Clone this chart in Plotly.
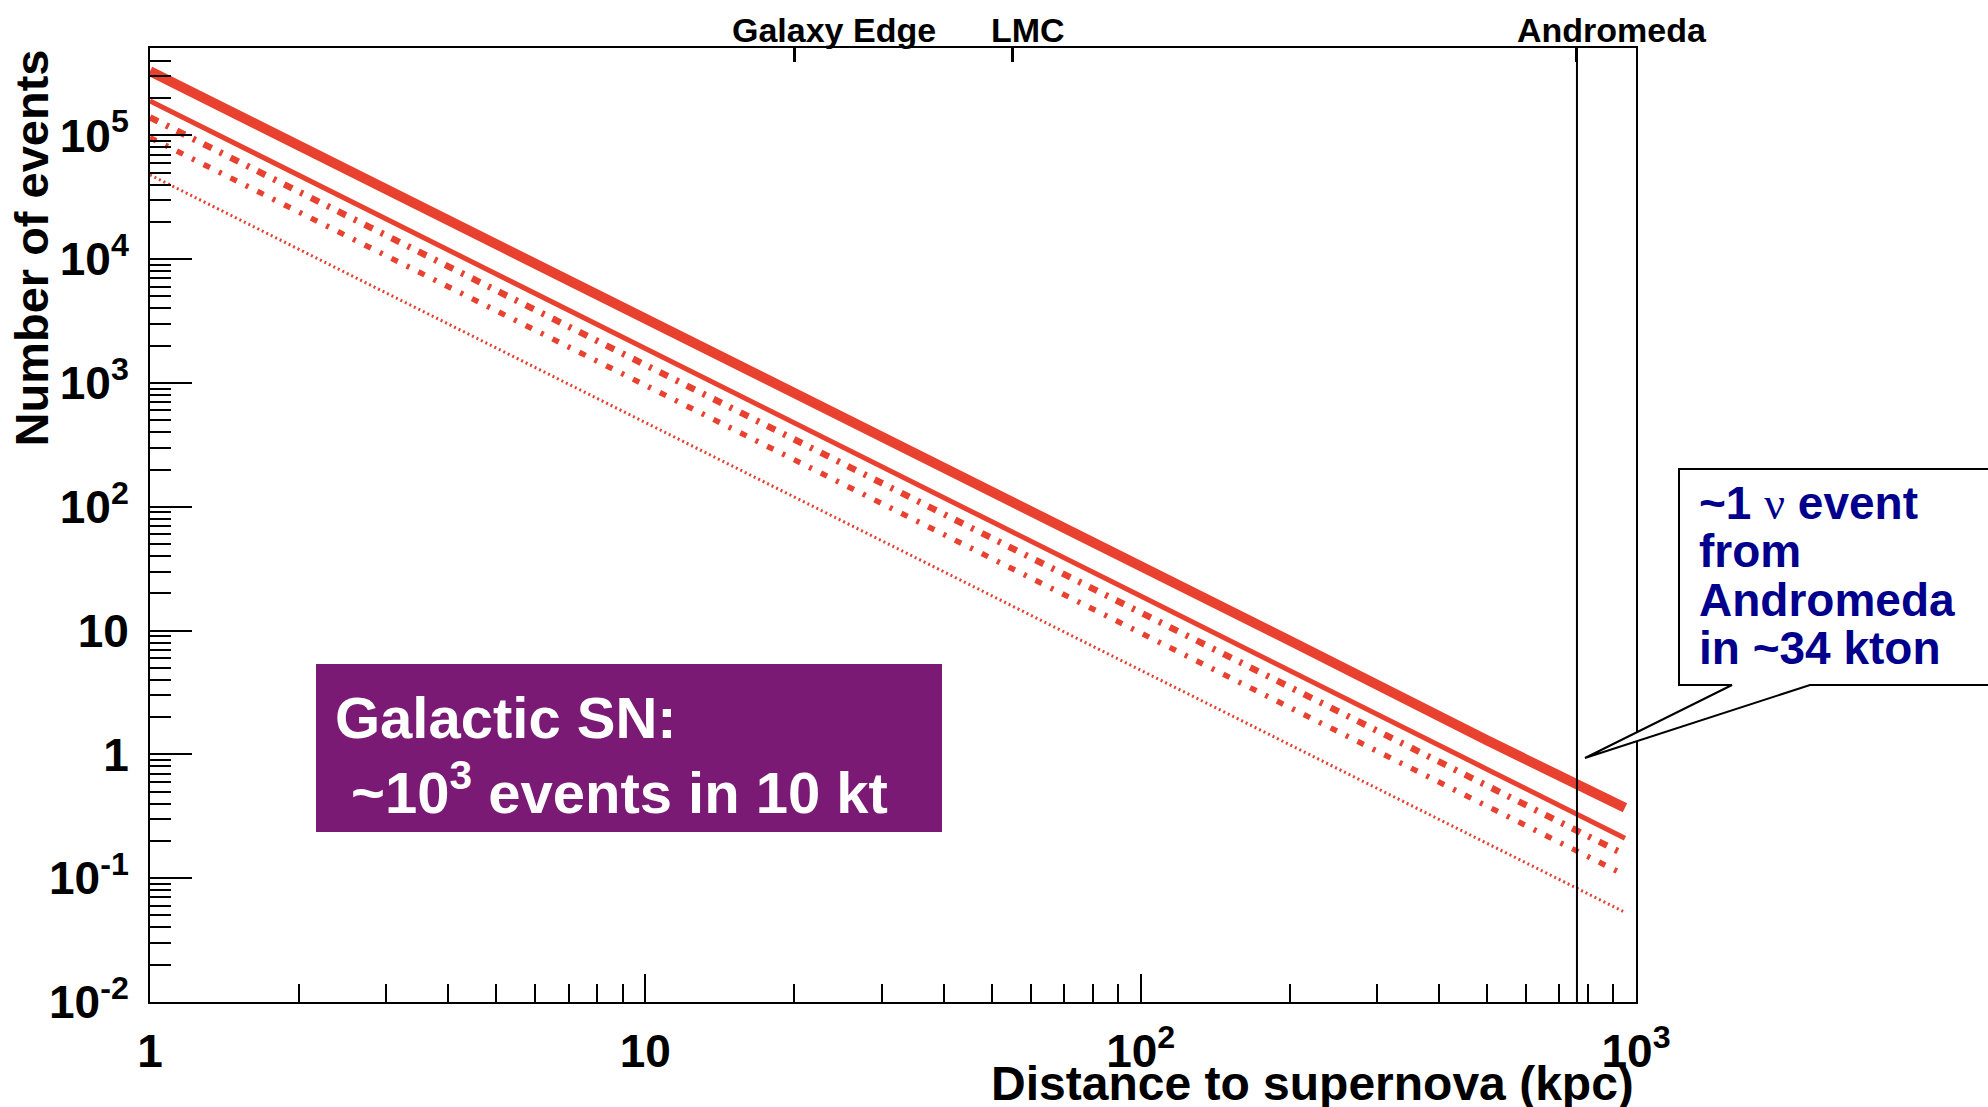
import math
import plotly.graph_objects as go

# Distance samples (kpc) and expected event counts for each model curve
DIST_KPC = [1, 2, 5, 10, 20, 50, 100, 200, 500, 950]
EVENTS_THICK = [3.3e5, 8.3e4, 1.3e4, 3.3e3, 830, 130, 33, 8.3, 1.3, 0.37]
EVENTS_SOLID = [1.9e5, 4.8e4, 7.6e3, 1.9e3, 480, 76, 19, 4.8, 0.76, 0.21]
EVENTS_DASHDOT_A = [1.4e5, 3.5e4, 5.6e3, 1.4e3, 350, 56, 14, 3.5, 0.56, 0.155]
EVENTS_DASHDOT_B = [9.6e4, 2.4e4, 3.8e3, 960, 240, 38, 9.6, 2.4, 0.38, 0.106]
EVENTS_DOTTED = [4.8e4, 1.2e4, 1.9e3, 480, 120, 19, 4.8, 1.2, 0.19, 0.053]

# Reference distances marked on the top axis (kpc)
LANDMARK_NAMES = ["Galaxy Edge", "LMC", "Andromeda"]
LANDMARK_KPC = [20, 55, 760]

X_TICKS = [1, 10, 100, 1000]
X_TICK_TEXT = ["1", "10", "10<sup>2</sup>", "10<sup>3</sup>"]
Y_TICKS = [1e-2, 1e-1, 1, 10, 1e2, 1e3, 1e4, 1e5]
Y_TICK_TEXT = ["10<sup>-2</sup>", "10<sup>-1</sup>", "1", "10",
               "10<sup>2</sup>", "10<sup>3</sup>", "10<sup>4</sup>", "10<sup>5</sup>"]
Y_RANGE_LOG = [-2, 5.706]

W, H = 1988, 1107
L, R, T, B = 150, 1636, 48, 1002
RED = "#E8412F"
FONT = "Liberation Sans, Arial, Helvetica, sans-serif"
SERIF = "Liberation Serif, Times New Roman, serif"


def paper(xp, yp):
    """Convert page pixels to paper coordinates of the plot area."""
    return (xp - L) / (R - L), (B - yp) / (B - T)


fig = go.Figure()

curves = [
    (EVENTS_THICK, dict(color=RED, width=10)),
    (EVENTS_SOLID, dict(color=RED, width=5)),
    (EVENTS_DASHDOT_A, dict(color=RED, width=6.5, dash="9px,9px,3px,9px")),
    (EVENTS_DASHDOT_B, dict(color=RED, width=5.5, dash="7px,10px,3px,10px")),
    (EVENTS_DOTTED, dict(color=RED, width=3, dash="2px,3px")),
]
for ys, line in curves:
    fig.add_trace(go.Scatter(x=DIST_KPC, y=ys, mode="lines", line=line,
                             hoverinfo="skip", showlegend=False))

# Vertical marker at the Andromeda distance, on the top (landmark) axis
andromeda = LANDMARK_KPC[LANDMARK_NAMES.index("Andromeda")]
fig.add_trace(go.Scatter(x=[andromeda, andromeda],
                         y=[10 ** Y_RANGE_LOG[0], 10 ** Y_RANGE_LOG[1]],
                         mode="lines", line=dict(color="black", width=2),
                         xaxis="x2", hoverinfo="skip", showlegend=False))

minor_x = [m * 10 ** d for d in range(0, 3) for m in range(2, 10)]
minor_y = [m * 10.0 ** d for d in range(-2, 6) for m in range(2, 10)
           if math.log10(m * 10.0 ** d) < Y_RANGE_LOG[1]]

tick_font = dict(family=FONT, size=46, color="black", weight="bold")

fig.update_layout(
    width=W, height=H, autosize=False,
    margin=dict(l=L, r=W - R, t=T, b=H - B, pad=0),
    paper_bgcolor="white", plot_bgcolor="white",
    showlegend=False,
    xaxis=dict(
        type="log", range=[0, 3], tickmode="array", tickvals=X_TICKS,
        ticktext=X_TICK_TEXT, ticks="inside", ticklen=28, tickwidth=2,
        tickcolor="black", showline=True, linecolor="black", linewidth=2,
        mirror=True, showgrid=False, zeroline=False, tickfont=tick_font,
        ticklabelstandoff=8,
        minor=dict(tickmode="array", tickvals=minor_x, ticks="inside",
                   ticklen=18, tickwidth=2, tickcolor="black", showgrid=False),
    ),
    xaxis2=dict(
        type="log", range=[0, 3], overlaying="x", side="top", anchor="y",
        tickmode="array", tickvals=LANDMARK_KPC, ticks="inside", ticklen=14,
        tickwidth=3, tickcolor="black", showticklabels=False, showline=False,
        showgrid=False, zeroline=False,
    ),
    yaxis=dict(
        type="log", range=Y_RANGE_LOG, tickmode="array", tickvals=Y_TICKS,
        ticktext=Y_TICK_TEXT, ticks="inside", ticklen=42, tickwidth=2,
        tickcolor="black", showline=True, linecolor="black", linewidth=2,
        mirror=True, showgrid=False, zeroline=False, tickfont=tick_font,
        ticklabelstandoff=10,
        minor=dict(tickmode="array", tickvals=minor_y, ticks="inside",
                   ticklen=21, tickwidth=2, tickcolor="black", showgrid=False),
    ),
)

annotations = []

# Landmark names above the top axis
label_shift = {"Galaxy Edge": 40, "LMC": 16, "Andromeda": 35}
for name, kpc in zip(LANDMARK_NAMES, LANDMARK_KPC):
    annotations.append(dict(
        x=math.log10(kpc), xref="x2", y=1, yref="paper", yanchor="bottom",
        xanchor="center", xshift=label_shift[name], yshift=-2,
        text=name, showarrow=False, borderpad=0,
        font=dict(family=FONT, size=34, color="black", weight="bold")))

# Axis titles
ax, ay = paper(R, 1083)
annotations.append(dict(
    x=ax, y=ay, xref="paper", yref="paper", xanchor="right", yanchor="middle",
    text="Distance to supernova (kpc)", showarrow=False,
    font=dict(family=FONT, size=48, color="black", weight="bold")))
tx, ty = paper(31, T)
annotations.append(dict(
    x=tx, y=ty, xref="paper", yref="paper", xanchor="center", yanchor="top",
    text="Number of events", textangle=-90, showarrow=False,
    font=dict(family=FONT, size=47, color="black", weight="bold")))

# Purple summary box
bx0, by0 = paper(316, 832)
bx1, by1 = paper(942, 664)
shapes = [dict(type="rect", xref="paper", yref="paper", x0=bx0, y0=by0,
               x1=bx1, y1=by1, fillcolor="#7B1A74", line=dict(width=0),
               layer="above")]
for text, yc in [("Galactic SN:", 718), (" ~10<sup>3</sup> events in 10 kt", 788)]:
    px_, py_ = paper(333, yc)
    annotations.append(dict(
        x=px_, y=py_, xref="paper", yref="paper", xanchor="left",
        yanchor="middle", text=text, showarrow=False,
        font=dict(family=FONT, size=58, color="white", weight="bold")))

# Callout pointing at the Andromeda distance
pts = [(1679, 469), (2010, 469), (2010, 685), (1810, 685), (1585, 758),
       (1732, 685), (1679, 685)]
path = "M " + " L ".join("{:.5f},{:.5f}".format(*paper(x, y)) for x, y in pts) + " Z"
shapes.append(dict(type="path", xref="paper", yref="paper", path=path,
                   fillcolor="white", line=dict(color="black", width=2),
                   layer="above"))
nu = "<span style='font-family:{}; font-weight:normal'>\u03bd</span>".format(SERIF)
callout_lines = ["~1 " + nu + " event", "from", "Andromeda", "in ~34 kton"]
for i, text in enumerate(callout_lines):
    cx, cy = paper(1697, 503 + 48.3 * i)
    annotations.append(dict(
        x=cx, y=cy, xref="paper", yref="paper", xanchor="left",
        yanchor="middle", text=text, showarrow=False,
        font=dict(family=FONT, size=46, color="#00008C", weight="bold")))

fig.update_layout(annotations=annotations, shapes=shapes)

fig.write_html("out.html")
